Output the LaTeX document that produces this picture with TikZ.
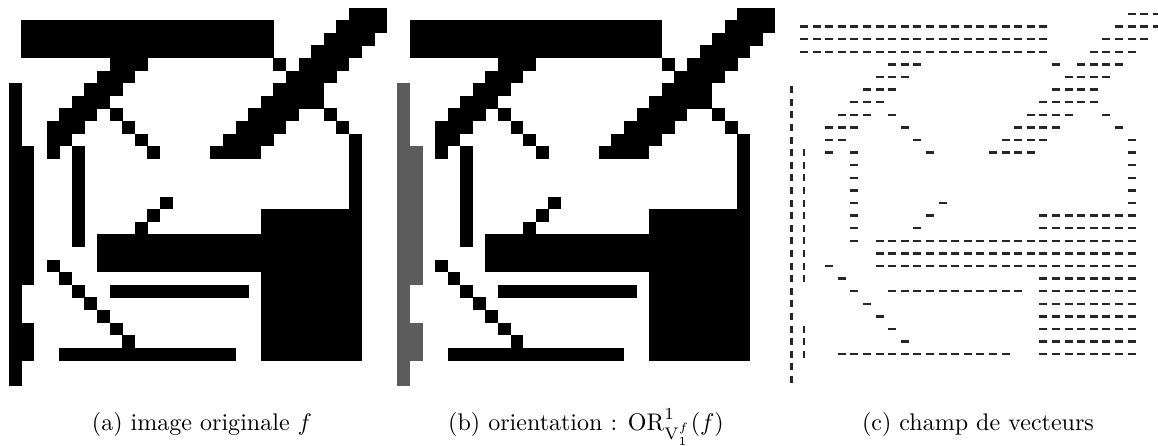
\documentclass[tikz,border=0pt]{standalone}
\newcommand\blackcells{0/27/29, 1/1/20, 1/26/29, 2/1/20, 2/25/28, 3/1/20, 3/24/27,
4/8/10, 4/21/21, 4/23/26,
5/7/9, 5/22/25,
6/6/8, 6/21/24,
7/5/7, 7/20/24,
8/4/6, 8/8/8, 8/19/22, 8/25/25,
9/3/5, 9/9/9, 9/18/21, 9/26/26,
10/3/4, 10/10/10, 10/17/20, 10/27/27,
11/3/3, 11/5/5, 11/11/11, 11/16/19, 11/27/27,
12/5/5, 12/27/27, 13/5/5, 13/27/27, 14/5/5, 14/27/27,
15/5/5, 15/12/12, 15/27/27,
16/5/5, 16/11/11, 16/20/27,
17/5/5, 17/10/10, 17/20/27,
18/5/5, 18/7/27,
19/7/27,
20/3/3, 20/7/27,
21/4/4, 21/20/27,
22/5/5, 22/8/18, 22/20/27,
23/6/6, 23/20/27,
24/7/7, 24/20/27,
25/8/8, 25/20/27,
26/9/9, 26/20/27,
27/4/17, 27/20/27}
\newcommand\graycells{0/6/29, 1/11/21, 1/25/27}
\tikzset{
  hdash/.style={draw=black!85, line width=1.05pt},
  capstyle/.style={anchor=base, font=\normalsize, inner sep=0pt}
}
\begin{document}
\begin{tikzpicture}[x=0.416pt,y=-0.416pt]
\useasboundingbox[fill=white] (0,0) rectangle (1158,445);
\def\cs{12.6}
% panels (a) and (b)
\foreach \X/\gcol in {9/black, 397.3/black!64} {
  \foreach \rr/\ca/\cb in \blackcells {
    \fill[black] ({\X+\cs*\ca-0.15},{7.7+\cs*\rr-0.15}) rectangle ({\X+\cs*(\cb+1)+0.15},{7.7+\cs*(\rr+1)+0.15});
  }
  \foreach \cc/\ra/\rb in \graycells {
    \fill[\gcol] ({\X+\cs*\cc-0.15},{7.7+\cs*\ra-0.15}) rectangle ({\X+\cs*(\cc+1)+0.15},{7.7+\cs*(\rb+1)+0.15});
  }
}
% panel (c)
\foreach \rr/\ca/\cb in \blackcells {
  \foreach \cc in {\ca,...,\cb} {
    \draw[hdash] ({785+\cs*(\cc+0.5)-4},{7.7+\cs*(\rr+0.5)}) -- ++(8,0);
  }
}
\foreach \cc/\ra/\rb in \graycells {
  \foreach \rr in {\ra,...,\rb} {
    \draw[hdash] ({785+\cs*(\cc+0.5)},{7.7+\cs*(\rr+0.5)-3.5}) -- ++(0,7);
  }
}
\node[capstyle] (capa) at (202,430) {(a) image originale $f$};
\node[capstyle] (capb) at (586,430) {(b) orientation : $\mathrm{OR}^1_{\mathrm{V}^f_1}(f)$};
\node[capstyle] (capc) at (978,430) {(c) champ de vecteurs};
\end{tikzpicture}
\end{document}
